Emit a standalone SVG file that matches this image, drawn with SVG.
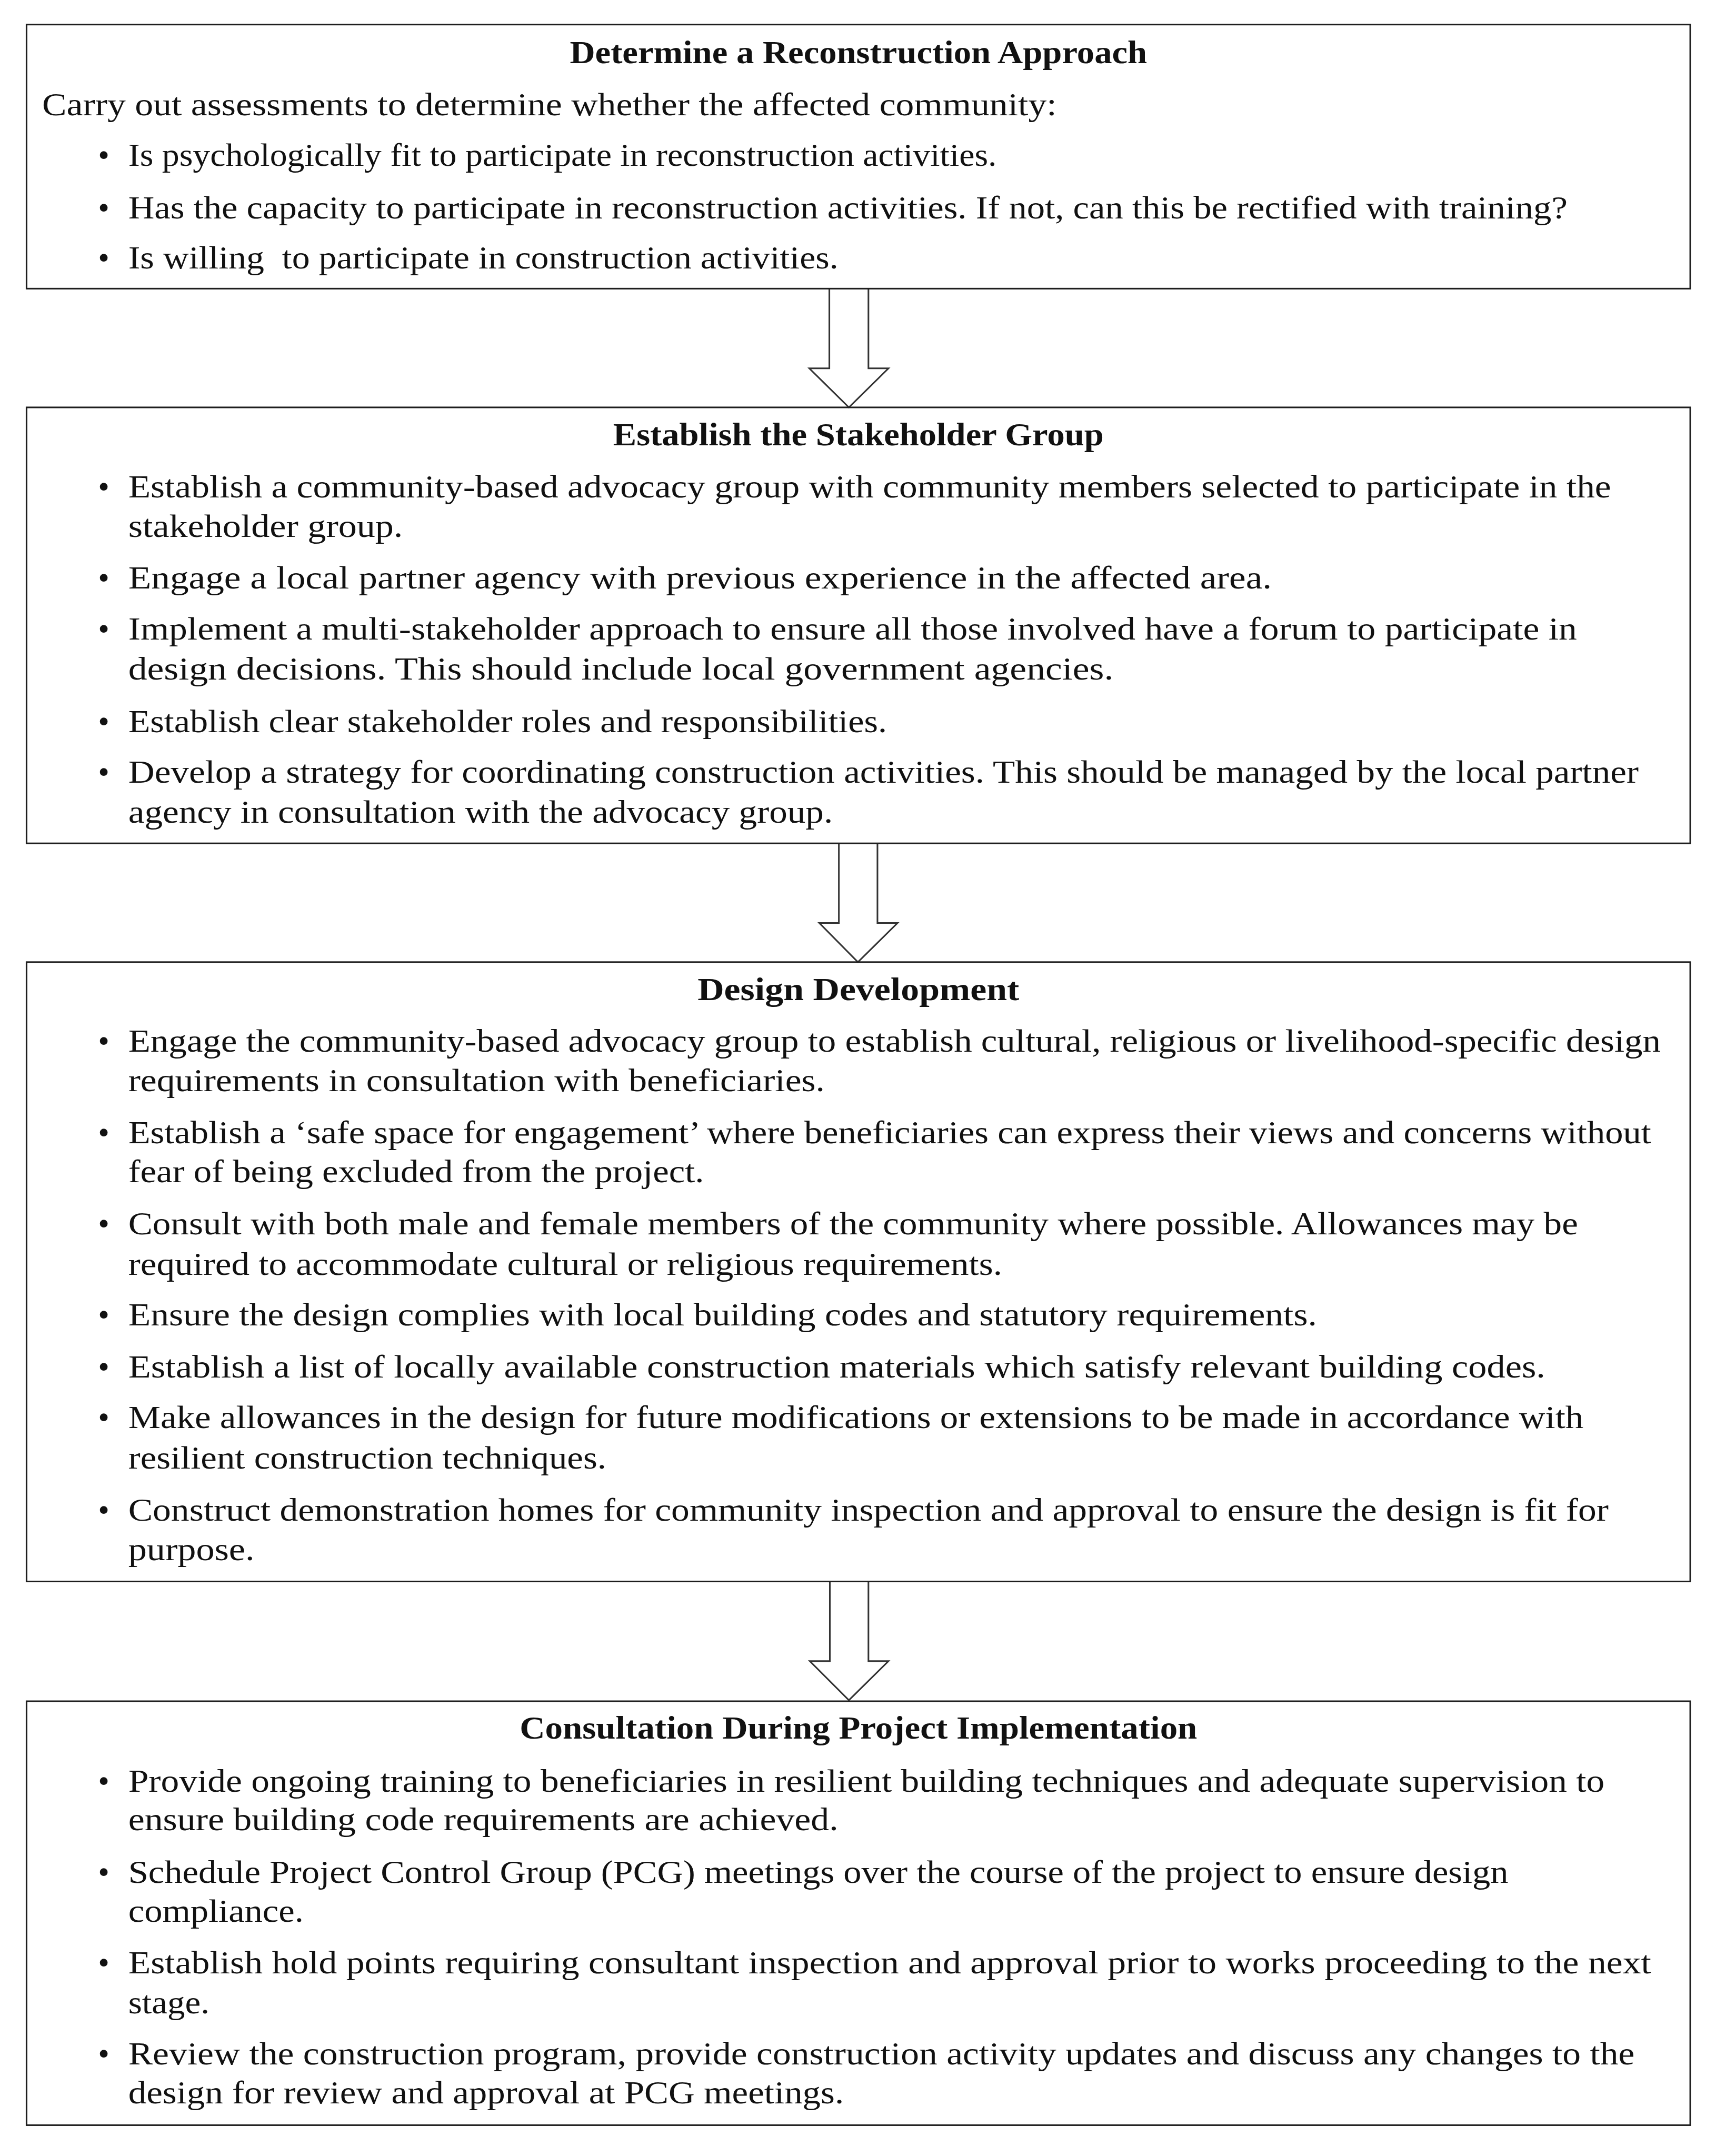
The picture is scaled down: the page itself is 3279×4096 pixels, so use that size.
<svg xmlns="http://www.w3.org/2000/svg" width="3279" height="4096" viewBox="0 0 3279 4096">
<style>
.box{fill:none;stroke:#1e1e1e;stroke-width:3.2}
.arr{fill:none;stroke:#333;stroke-width:3.2;stroke-linejoin:miter}
.t{font-family:"Liberation Serif","Times New Roman",serif;font-size:65px;fill:#111}
.h{font-family:"Liberation Serif","Times New Roman",serif;font-size:65px;font-weight:bold;fill:#111;text-anchor:middle}
.b{font-family:"Liberation Serif","Times New Roman",serif;font-size:65px;fill:#111;text-anchor:middle}
</style>
<rect width="3279" height="4096" fill="#fff"/>
<g transform="scale(0.952)">
<g id="connectors">
<path class="arr" d="M1655,576 L1655,735 L1615,735 L1694,813 L1773,735 L1733,735 L1733,576"/>
<path class="arr" d="M1674,1683 L1674,1842 L1635,1842 L1712,1920 L1791,1842 L1751,1842 L1751,1683"/>
<path class="arr" d="M1656,3157 L1656,3315 L1616,3315 L1694,3393 L1773,3315 L1733,3315 L1733,3157"/>
</g>
<g id="node-1">
<rect class="box" x="53" y="49" width="3320" height="527"/>
<text class="h" x="1713" y="126" textLength="1152" lengthAdjust="spacingAndGlyphs">Determine a Reconstruction Approach</text>
<text class="t" x="84" y="230" textLength="2025" lengthAdjust="spacingAndGlyphs">Carry out assessments to determine whether the affected community:</text>
<text class="b" x="207" y="331">•</text>
<text class="t" x="256" y="331" textLength="1733" lengthAdjust="spacingAndGlyphs">Is psychologically fit to participate in reconstruction activities.</text>
<text class="b" x="207" y="436">•</text>
<text class="t" x="256" y="436" textLength="2872" lengthAdjust="spacingAndGlyphs">Has the capacity to participate in reconstruction activities. If not, can this be rectified with training?</text>
<text class="b" x="207" y="536">•</text>
<text class="t" x="256" y="536" textLength="1417" lengthAdjust="spacingAndGlyphs" xml:space="preserve">Is willing  to participate in construction activities.</text>
</g>
<g id="node-2">
<rect class="box" x="53" y="813" width="3320" height="870"/>
<text class="h" x="1713" y="889" textLength="979" lengthAdjust="spacingAndGlyphs">Establish the Stakeholder Group</text>
<text class="b" x="207" y="993">•</text>
<text class="t" x="256" y="993" textLength="2959" lengthAdjust="spacingAndGlyphs">Establish a community-based advocacy group with community members selected to participate in the</text>
<text class="t" x="256" y="1071" textLength="548" lengthAdjust="spacingAndGlyphs">stakeholder group.</text>
<text class="b" x="207" y="1174">•</text>
<text class="t" x="256" y="1174" textLength="2282" lengthAdjust="spacingAndGlyphs">Engage a local partner agency with previous experience in the affected area.</text>
<text class="b" x="207" y="1276">•</text>
<text class="t" x="256" y="1276" textLength="2891" lengthAdjust="spacingAndGlyphs">Implement a multi-stakeholder approach to ensure all those involved have a forum to participate in</text>
<text class="t" x="256" y="1356" textLength="1966" lengthAdjust="spacingAndGlyphs">design decisions. This should include local government agencies.</text>
<text class="b" x="207" y="1461">•</text>
<text class="t" x="256" y="1461" textLength="1514" lengthAdjust="spacingAndGlyphs">Establish clear stakeholder roles and responsibilities.</text>
<text class="b" x="207" y="1562">•</text>
<text class="t" x="256" y="1562" textLength="3014" lengthAdjust="spacingAndGlyphs">Develop a strategy for coordinating construction activities. This should be managed by the local partner</text>
<text class="t" x="256" y="1642" textLength="1406" lengthAdjust="spacingAndGlyphs">agency in consultation with the advocacy group.</text>
</g>
<g id="node-3">
<rect class="box" x="53" y="1920" width="3320" height="1236"/>
<text class="h" x="1713" y="1996" textLength="642" lengthAdjust="spacingAndGlyphs">Design Development</text>
<text class="b" x="207" y="2099">•</text>
<text class="t" x="256" y="2099" textLength="3058" lengthAdjust="spacingAndGlyphs">Engage the community-based advocacy group to establish cultural, religious or livelihood-specific design</text>
<text class="t" x="256" y="2177" textLength="1390" lengthAdjust="spacingAndGlyphs">requirements in consultation with beneficiaries.</text>
<text class="b" x="207" y="2281">•</text>
<text class="t" x="256" y="2281" textLength="3039" lengthAdjust="spacingAndGlyphs">Establish a ‘safe space for engagement’ where beneficiaries can express their views and concerns without</text>
<text class="t" x="256" y="2359" textLength="1149" lengthAdjust="spacingAndGlyphs">fear of being excluded from the project.</text>
<text class="b" x="207" y="2463">•</text>
<text class="t" x="256" y="2463" textLength="2893" lengthAdjust="spacingAndGlyphs">Consult with both male and female members of the community where possible. Allowances may be</text>
<text class="t" x="256" y="2544" textLength="1744" lengthAdjust="spacingAndGlyphs">required to accommodate cultural or religious requirements.</text>
<text class="b" x="207" y="2645">•</text>
<text class="t" x="256" y="2645" textLength="2372" lengthAdjust="spacingAndGlyphs">Ensure the design complies with local building codes and statutory requirements.</text>
<text class="b" x="207" y="2749">•</text>
<text class="t" x="256" y="2749" textLength="2828" lengthAdjust="spacingAndGlyphs">Establish a list of locally available construction materials which satisfy relevant building codes.</text>
<text class="b" x="207" y="2850">•</text>
<text class="t" x="256" y="2850" textLength="2904" lengthAdjust="spacingAndGlyphs">Make allowances in the design for future modifications or extensions to be made in accordance with</text>
<text class="t" x="256" y="2931" textLength="954" lengthAdjust="spacingAndGlyphs">resilient construction techniques.</text>
<text class="b" x="207" y="3035">•</text>
<text class="t" x="256" y="3035" textLength="2954" lengthAdjust="spacingAndGlyphs">Construct demonstration homes for community inspection and approval to ensure the design is fit for</text>
<text class="t" x="256" y="3113" textLength="252" lengthAdjust="spacingAndGlyphs">purpose.</text>
</g>
<g id="node-4">
<rect class="box" x="53" y="3395" width="3320" height="846"/>
<text class="h" x="1713" y="3470" textLength="1352" lengthAdjust="spacingAndGlyphs">Consultation During Project Implementation</text>
<text class="b" x="207" y="3576">•</text>
<text class="t" x="256" y="3576" textLength="2946" lengthAdjust="spacingAndGlyphs">Provide ongoing training to beneficiaries in resilient building techniques and adequate supervision to</text>
<text class="t" x="256" y="3652" textLength="1417" lengthAdjust="spacingAndGlyphs">ensure building code requirements are achieved.</text>
<text class="b" x="207" y="3757">•</text>
<text class="t" x="256" y="3757" textLength="2754" lengthAdjust="spacingAndGlyphs">Schedule Project Control Group (PCG) meetings over the course of the project to ensure design</text>
<text class="t" x="256" y="3835" textLength="350" lengthAdjust="spacingAndGlyphs">compliance.</text>
<text class="b" x="207" y="3938">•</text>
<text class="t" x="256" y="3938" textLength="3039" lengthAdjust="spacingAndGlyphs">Establish hold points requiring consultant inspection and approval prior to works proceeding to the next</text>
<text class="t" x="256" y="4018" textLength="162" lengthAdjust="spacingAndGlyphs">stage.</text>
<text class="b" x="207" y="4120">•</text>
<text class="t" x="256" y="4120" textLength="3006" lengthAdjust="spacingAndGlyphs">Review the construction program, provide construction activity updates and discuss any changes to the</text>
<text class="t" x="256" y="4198" textLength="1428" lengthAdjust="spacingAndGlyphs">design for review and approval at PCG meetings.</text>
</g>
</g>
</svg>
